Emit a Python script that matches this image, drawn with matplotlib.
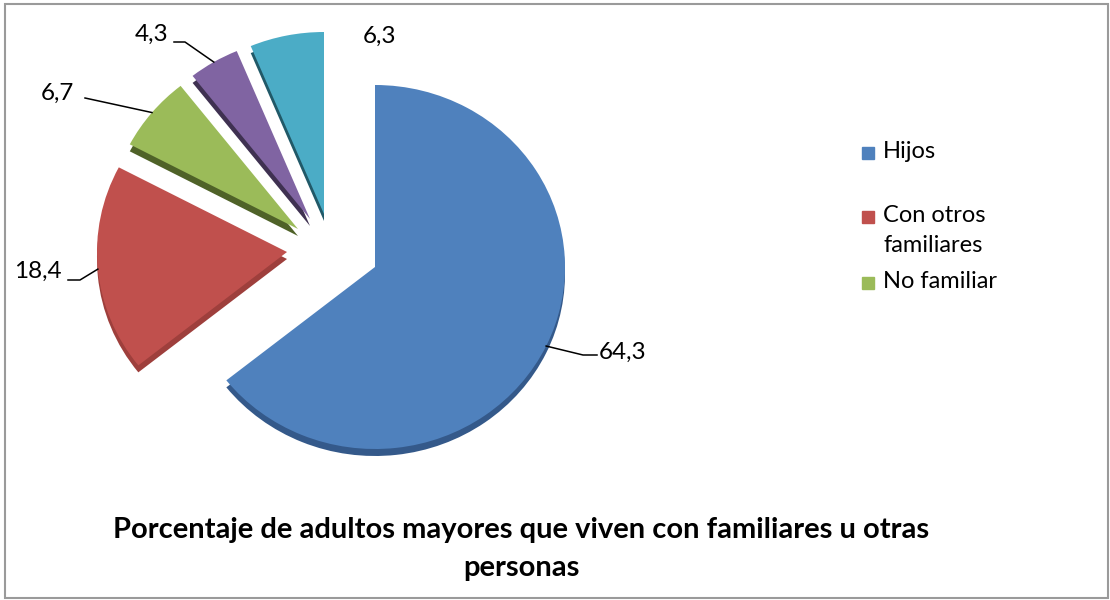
import numpy as np
import matplotlib.pyplot as plt
from matplotlib.transforms import Affine2D
from matplotlib.patches import Rectangle

plt.rcParams['font.family'] = ['Lato', 'DejaVu Sans']

# datos
categorias = ['Hijos', 'Con otros\nfamiliares', 'No familiar', 'Otro 1', 'Otro 2']
valores = [64.3, 18.4, 6.7, 4.3, 6.3]
etiquetas = ['64,3', '18,4', '6,7', '4,3', '6,3']
en_leyenda = [True, True, True, False, False]

colores = ['#4F81BD', '#C0504D', '#9BBB59', '#8064A2', '#4BACC6']
colores_lado = ['#34598A', '#9E3F3C', '#4F6228', '#3F3151', '#215968']

titulo = 'Porcentaje de adultos mayores que viven con familiares u otras\npersonas'

# geometria (pixeles, y hacia abajo)
cx, cy = 375, 267
rx, ry = 190, 182
grosor = 7
desplaz = [(0, 0), (-88, -15), (-77, -38), (-65, -48), (-51, -53)]

# posiciones de etiquetas: texto, codo, final de la linea
pos_texto = [(623, 352), (38, 271), (57, 93), (152, 34), (380, 36)]
codo = [(583, 355), (80, 280), None, (185, 42), None]
fin = [(597, 355), (68, 280), (85, 98), (174, 42), None]

pos_leyenda = [153, 217, 283]

fig = plt.figure(figsize=(11.1, 6), dpi=100)
ax = fig.add_axes([0, 0, 1, 1])


def trans(i, extra=0):
    dx, dy = desplaz[i]
    return Affine2D().scale(rx, ry).translate(cx + dx, cy + dy + extra)


# caras laterales (efecto 3D)
lados, _ = ax.pie(valores, colors=colores_lado, startangle=-90, counterclock=True,
                  wedgeprops=dict(linewidth=0))
for i, w in enumerate(lados):
    w.set_transform(trans(i, grosor) + ax.transData)

# caras superiores
cuñas, _ = ax.pie(valores, colors=colores, startangle=-90, counterclock=True,
                  wedgeprops=dict(linewidth=0))
for i, w in enumerate(cuñas):
    w.set_transform(trans(i) + ax.transData)

ax.set_aspect('auto')
ax.set_xlim(0, 1110)
ax.set_ylim(600, 0)
ax.axis('off')

# etiquetas de datos con lineas guia
for i, w in enumerate(cuñas):
    ang = np.deg2rad((w.theta1 + w.theta2) / 2)
    px, py = trans(i).transform((np.cos(ang), np.sin(ang)))
    ax.text(*pos_texto[i], etiquetas[i], fontsize=17.5, ha='center', va='center')
    if fin[i] is not None:
        pts = [(px, py)]
        if codo[i] is not None:
            pts.append(codo[i])
        pts.append(fin[i])
        xs, ys = zip(*pts)
        ax.plot(xs, ys, color='black', lw=1.1)

# leyenda
j = 0
for i in range(len(categorias)):
    if not en_leyenda[i]:
        continue
    y = pos_leyenda[j]
    ax.add_patch(Rectangle((862, y - 6), 12, 12, color=colores[i]))
    ax.text(883, y - 12, categorias[i], fontsize=17, ha='left', va='top', linespacing=1.5)
    j += 1

# titulo
ax.text(521, 549, titulo, fontsize=21, fontweight='bold', ha='center', va='center',
        linespacing=1.55)

# marco
ax.add_patch(Rectangle((5, 4), 1103, 594, fill=False, edgecolor='#9A9A9A', lw=1.5))

fig.savefig('out.png', dpi=100)
